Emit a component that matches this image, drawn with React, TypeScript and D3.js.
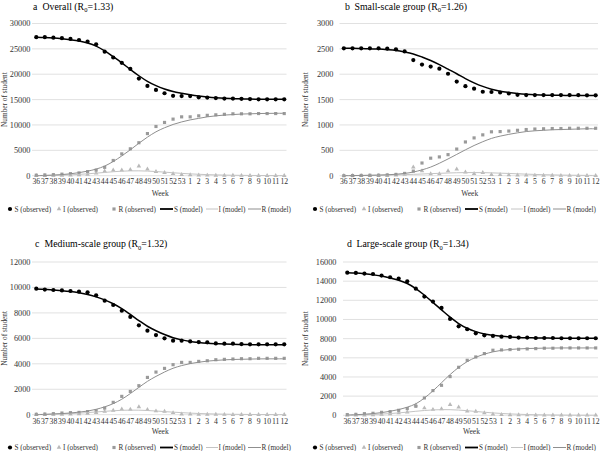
import * as d3 from "d3";

// weeks of the school year: 36..53, then 1..12
const weeks = [
  "36", "37", "38", "39", "40", "41", "42", "43", "44", "45", "46", "47", "48", "49", "50",
  "51", "52", "53", "1", "2", "3", "4", "5", "6", "7", "8", "9", "10", "11", "12",
];

// a  Overall
const sObsA = [27300, 27300, 27200, 27100, 26950, 26750, 26450, 25900, 24450, 23300, 22250, 21050, 19150, 17700, 16900, 16250, 15750, 15700, 15700, 15450, 15400, 15300, 15200, 15200, 15150, 15100, 15050, 15050, 15050, 15050];
const iObsA = [0, 20, 40, 60, 100, 150, 250, 500, 900, 1100, 1100, 1200, 1900, 1300, 800, 600, 400, 200, 150, 100, 80, 60, 50, 40, 30, 20, 20, 10, 10, 10];
const rObsA = [100, 150, 200, 300, 400, 550, 800, 1100, 1650, 3000, 4300, 5300, 6500, 8300, 9700, 10500, 11150, 11600, 11600, 11800, 11900, 12000, 12100, 12200, 12200, 12200, 12250, 12250, 12250, 12250];
const sModA = [27300, 27250, 27150, 27000, 26800, 26550, 26150, 25550, 24600, 23450, 22250, 20950, 19700, 18600, 17750, 17100, 16600, 16250, 15950, 15700, 15500, 15350, 15250, 15200, 15150, 15100, 15080, 15060, 15050, 15050];
const iModA = [30, 50, 80, 120, 180, 260, 370, 500, 640, 780, 890, 950, 960, 910, 820, 700, 580, 460, 360, 280, 210, 160, 120, 90, 70, 50, 40, 30, 20, 20];
const rModA = [0, 50, 120, 220, 380, 600, 900, 1300, 1900, 2800, 3900, 5100, 6400, 7600, 8650, 9450, 10100, 10600, 11000, 11300, 11600, 11800, 11950, 12050, 12150, 12200, 12250, 12280, 12300, 12300];

// b  Small-scale group
const sObsB = [2510, 2510, 2510, 2510, 2510, 2505, 2490, 2450, 2280, 2190, 2150, 2110, 2010, 1855, 1765, 1715, 1655, 1650, 1640, 1620, 1595, 1590, 1590, 1590, 1590, 1590, 1590, 1590, 1585, 1585];
const iObsB = [0, 0, 0, 0, 2, 5, 10, 25, 170, 95, 35, 35, 95, 130, 70, 40, 60, 20, 20, 15, 12, 10, 8, 5, 5, 3, 3, 2, 2, 2];
const rObsB = [0, 3, 5, 8, 10, 15, 25, 45, 90, 250, 345, 370, 415, 525, 665, 745, 805, 865, 870, 880, 895, 910, 920, 925, 930, 930, 935, 935, 935, 935];
const sModB = [2510, 2510, 2505, 2500, 2495, 2485, 2470, 2440, 2400, 2340, 2270, 2190, 2100, 2010, 1915, 1830, 1760, 1705, 1665, 1640, 1620, 1605, 1595, 1590, 1585, 1585, 1580, 1580, 1580, 1580];
const iModB = [3, 4, 5, 7, 9, 12, 16, 21, 27, 33, 40, 47, 53, 58, 61, 62, 60, 56, 50, 44, 37, 31, 25, 20, 16, 12, 10, 8, 6, 5];
const rModB = [0, 2, 5, 8, 12, 18, 28, 45, 72, 115, 170, 245, 330, 420, 510, 595, 670, 735, 780, 815, 845, 870, 885, 895, 905, 910, 915, 920, 925, 925];

// c  Medium-scale group
const sObsC = [9900, 9830, 9800, 9770, 9720, 9670, 9620, 9380, 8960, 8620, 8170, 7680, 7020, 6600, 6260, 6000, 5820, 5820, 5760, 5710, 5690, 5600, 5580, 5580, 5550, 5530, 5530, 5530, 5530, 5530];
const iObsC = [0, 10, 20, 30, 40, 60, 100, 150, 250, 330, 440, 420, 610, 400, 290, 260, 150, 50, 40, 30, 25, 20, 15, 10, 10, 8, 5, 5, 5, 5];
const rObsC = [30, 50, 80, 130, 160, 180, 240, 310, 520, 970, 1440, 1830, 2280, 2930, 3350, 3640, 3930, 4110, 4110, 4190, 4240, 4320, 4350, 4375, 4400, 4400, 4430, 4430, 4430, 4430];
const sModC = [9880, 9850, 9800, 9750, 9680, 9580, 9450, 9260, 9020, 8720, 8340, 7880, 7400, 6950, 6600, 6300, 6050, 5880, 5760, 5680, 5620, 5580, 5550, 5530, 5520, 5510, 5500, 5500, 5500, 5500];
const iModC = [15, 25, 40, 60, 85, 120, 165, 215, 265, 310, 345, 360, 355, 330, 290, 245, 200, 160, 125, 95, 72, 55, 42, 32, 24, 18, 14, 10, 8, 6];
const rModC = [5, 25, 60, 90, 135, 200, 285, 425, 615, 870, 1215, 1660, 2145, 2620, 3010, 3355, 3650, 3860, 4015, 4125, 4210, 4265, 4310, 4340, 4355, 4370, 4385, 4390, 4390, 4395];

// d  Large-scale group
const sObsD = [14890, 14860, 14790, 14750, 14580, 14410, 14270, 13990, 13220, 12390, 11870, 11210, 10060, 9290, 8980, 8560, 8350, 8280, 8210, 8180, 8110, 8110, 8070, 8070, 8070, 8040, 8040, 8040, 8040, 8040];
const iObsD = [0, 10, 20, 40, 80, 150, 250, 320, 1050, 760, 600, 670, 1120, 850, 430, 410, 240, 120, 70, 50, 40, 30, 20, 15, 10, 10, 5, 5, 5, 5];
const rObsD = [70, 100, 170, 210, 310, 380, 520, 700, 940, 1810, 2580, 3130, 4040, 5010, 5740, 6090, 6440, 6790, 6820, 6860, 6890, 6930, 6960, 7000, 7000, 7030, 7030, 7030, 7030, 7030];
const sModD = [14890, 14850, 14780, 14680, 14530, 14340, 14100, 13760, 13230, 12530, 11780, 11000, 10240, 9580, 9080, 8730, 8490, 8350, 8250, 8180, 8130, 8100, 8080, 8060, 8050, 8040, 8040, 8030, 8030, 8030];
const iModD = [20, 35, 55, 85, 125, 180, 250, 330, 420, 500, 560, 590, 585, 545, 480, 400, 320, 250, 190, 145, 110, 80, 60, 45, 33, 25, 18, 13, 10, 8];
const rModD = [30, 60, 110, 180, 280, 420, 600, 850, 1200, 1800, 2550, 3400, 4250, 5000, 5600, 6050, 6380, 6620, 6780, 6870, 6930, 6970, 6990, 7010, 7020, 7030, 7030, 7030, 7030, 7030];

const legendLabels = ["S (observed)", "I (observed)", "R (observed)", "S (model)", "I (model)", "R (model)"];

const GRID = "#d9d9d9";
const TXT = "#333";
const R_OBS = "#9a9a9a";
const I_OBS = "#b9b9b9";
const R_MOD = "#8f8f8f";
const I_MOD = "#c4c4c4";
const FONT = "'Liberation Serif', 'DejaVu Serif', 'Times New Roman', serif";

type Panel = {
  letter: string;
  name: string;
  r0: string;
  yMax: number;
  yStep: number;
  x0: number; x1: number;
  yTop: number; yBottom: number;
  tickX: number;
  titleX: number; titleY: number;
  xLabelY: number; weekY: number; legendY: number;
  legendX: number; axisTitleX: number;
  s: number[]; i: number[]; r: number[];
  sm: number[]; im: number[]; rm: number[];
};

const panels: Panel[] = [
  {
    letter: "a", name: "Overall", r0: "1.33", yMax: 30000, yStep: 5000,
    x0: 32, x1: 288.5, yTop: 23.5, yBottom: 175.7, tickX: 30.5,
    titleX: 33, titleY: 9.5, xLabelY: 183.5, weekY: 196, legendY: 211.5,
    legendX: 10, axisTitleX: 4.5,
    s: sObsA, i: iObsA, r: rObsA, sm: sModA, im: iModA, rm: rModA,
  },
  {
    letter: "b", name: "Small-scale group", r0: "1.26", yMax: 3000, yStep: 500,
    x0: 339.5, x1: 600, yTop: 23.5, yBottom: 175.7, tickX: 333.5,
    titleX: 345, titleY: 9.5, xLabelY: 183.5, weekY: 196, legendY: 211.5,
    legendX: 315, axisTitleX: 305,
    s: sObsB, i: iObsB, r: rObsB, sm: sModB, im: iModB, rm: rModB,
  },
  {
    letter: "c", name: "Medium-scale group", r0: "1.32", yMax: 12000, yStep: 2000,
    x0: 32, x1: 288.5, yTop: 262, yBottom: 414.7, tickX: 30.5,
    titleX: 35, titleY: 247, xLabelY: 424, weekY: 434, legendY: 450,
    legendX: 10, axisTitleX: 4.5,
    s: sObsC, i: iObsC, r: rObsC, sm: sModC, im: iModC, rm: rModC,
  },
  {
    letter: "d", name: "Large-scale group", r0: "1.34", yMax: 16000, yStep: 2000,
    x0: 343, x1: 600, yTop: 262, yBottom: 415.3, tickX: 336.5,
    titleX: 347, titleY: 247, xLabelY: 424, weekY: 434, legendY: 450,
    legendX: 315, axisTitleX: 305,
    s: sObsD, i: iObsD, r: rObsD, sm: sModD, im: iModD, rm: rModD,
  },
];

const triPath = d3.symbol(d3.symbolTriangle, 9)()!;
const sqPath = d3.symbol(d3.symbolSquare, 10)()!;

function PanelChart({ p }: { p: Panel }) {
  const x = d3.scalePoint<string>().domain(weeks).range([p.x0, p.x1]).padding(0.5);
  const y = d3.scaleLinear().domain([0, p.yMax]).range([p.yBottom, p.yTop]);
  const ticks = d3.range(0, p.yMax + 1, p.yStep);
  const line = (vals: number[]) =>
    d3.line<number>()
      .x((_, k) => x(weeks[k])!)
      .y(v => y(v))
      .curve(d3.curveCatmullRom.alpha(0.5))(vals)!;

  const lx = p.legendX;
  const ly = p.legendY - 2.5; // marker centre

  return (
    <g>
      {/* gridlines + y ticks */}
      {ticks.map(t => (
        <g key={t}>
          <line x1={p.x0} x2={p.x1 - 2} y1={y(t)} y2={y(t)} stroke={GRID} strokeWidth={0.8} />
          <text x={p.tickX} y={y(t)} dy="0.35em" textAnchor="end" fontSize={8.3} fill={TXT}>{t}</text>
        </g>
      ))}

      {/* x labels */}
      {weeks.map(w => (
        <text key={w} x={x(w)} y={p.xLabelY} textAnchor="middle" fontSize={7.7} fill={TXT}>{w}</text>
      ))}
      <text x={(p.x0 + p.x1) / 2} y={p.weekY} textAnchor="middle" fontSize={7.5} fill={TXT}>Week</text>
      <text transform={`translate(${p.axisTitleX},${(p.yTop + p.yBottom) / 2}) rotate(-90)`}
        textAnchor="middle" dy="0.35em" fontSize={7.3} fill={TXT}>Number of student</text>

      {/* title */}
      <text x={p.titleX} y={p.titleY} fontSize={9.8} fill="#000">
        {p.letter}
        <tspan x={p.titleX + 9.5}>{p.name} (R</tspan>
        <tspan dy={2.5} fontSize={6.5}>0</tspan>
        <tspan dy={-2.5}>={p.r0})</tspan>
      </text>

      {/* observed */}
      {p.s.map((v, k) => (
        <circle key={`s${k}`} cx={x(weeks[k])} cy={y(v)} r={2.1} fill="#000" />
      ))}
      {p.i.map((v, k) => (
        <path key={`i${k}`} d={triPath} transform={`translate(${x(weeks[k])},${y(v)})`} fill={I_OBS} />
      ))}
      {p.r.map((v, k) => (
        <path key={`r${k}`} d={sqPath} transform={`translate(${x(weeks[k])},${y(v)})`} fill={R_OBS} />
      ))}

      {/* model */}
      <path d={line(p.sm)} fill="none" stroke="#000" strokeWidth={1.5} />
      <path d={line(p.im)} fill="none" stroke={I_MOD} strokeWidth={1} />
      <path d={line(p.rm)} fill="none" stroke={R_MOD} strokeWidth={1} />

      {/* legend */}
      <g fontSize={7.2} fill={TXT}>
        <circle cx={lx} cy={ly} r={2.1} fill="#000" />
        <text x={lx + 4.5} y={p.legendY}>{legendLabels[0]}</text>
        <path d={triPath} transform={`translate(${lx + 49},${ly})`} fill={I_OBS} />
        <text x={lx + 53} y={p.legendY}>{legendLabels[1]}</text>
        <path d={sqPath} transform={`translate(${lx + 104},${ly})`} fill={R_OBS} />
        <text x={lx + 108.5} y={p.legendY}>{legendLabels[2]}</text>
        <line x1={lx + 150} x2={lx + 163} y1={ly} y2={ly} stroke="#000" strokeWidth={1.8} />
        <text x={lx + 164} y={p.legendY}>{legendLabels[3]}</text>
        <line x1={lx + 196} x2={lx + 208} y1={ly} y2={ly} stroke={I_MOD} strokeWidth={1} />
        <text x={lx + 208.5} y={p.legendY}>{legendLabels[4]}</text>
        <line x1={lx + 238} x2={lx + 251} y1={ly} y2={ly} stroke={R_MOD} strokeWidth={1} />
        <text x={lx + 251.5} y={p.legendY}>{legendLabels[5]}</text>
      </g>
    </g>
  );
}

export default function App() {
  return (
    <svg
      width={600}
      height={451}
      viewBox="0 0 600 451"
      style={{ position: "absolute", left: 0, top: 0, background: "#fff", fontFamily: FONT }}
    >
      {panels.map(p => (
        <PanelChart key={p.letter} p={p} />
      ))}
    </svg>
  );
}
